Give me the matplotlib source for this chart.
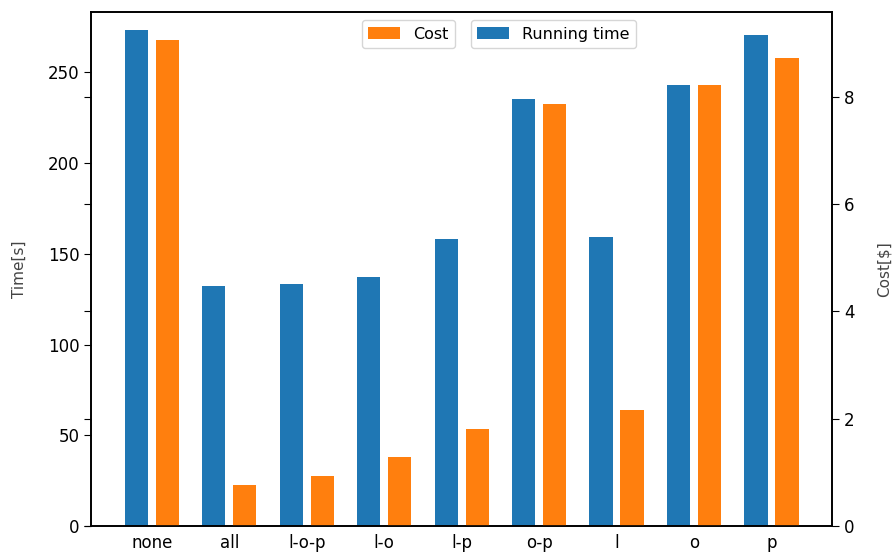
import matplotlib
matplotlib.use("Agg")
import matplotlib.pyplot as plt
import numpy as np

configs = ['none', 'all', 'l-o-p', 'l-o', 'l-p', 'o-p', 'l', 'o', 'p']
running_time = [273.3, 132.2, 133.3, 137.1, 158.0, 235.1, 159.1, 242.8, 270.4]
cost = [9.07, 0.77, 0.93, 1.29, 1.81, 7.87, 2.16, 8.23, 8.72]

x = np.arange(len(configs))
width = 0.3

plt.rcParams['xtick.labelsize'] = 12
plt.rcParams['ytick.labelsize'] = 12
plt.rcParams['xtick.major.size'] = 5
plt.rcParams['ytick.major.size'] = 5
plt.rcParams['axes.linewidth'] = 1.2

fig, ax1 = plt.subplots(figsize=(8.93, 5.52), dpi=100)
fig.subplots_adjust(left=0.102, right=0.932, top=0.978, bottom=0.047)

ax1.bar(x - 0.2, running_time, width, color='#1f77b4', label='Running time')
ax1.set_ylabel('Time[s]', color='#444444', fontsize=11, labelpad=15)
ax1.set_ylim(0, 283.2)
ax1.set_xticks(x)
ax1.set_xticklabels(configs)
ax1.tick_params(axis='x', length=0, pad=6)

ax2 = ax1.twinx()
ax2.bar(x + 0.2, cost, width, color='#ff7f0e', label='Cost')
ax2.set_ylabel('Cost[$]', color='#444444', fontsize=11, labelpad=16)
ax2.set_ylim(0, 9.58)
ax2.tick_params(axis='y', left=True)

ax2.legend(loc='upper center', bbox_to_anchor=(0.428, 1.0), fontsize=11.5)
ax1.legend(loc='upper center', bbox_to_anchor=(0.624, 1.0), fontsize=11.5)

fig.savefig('out.png')
